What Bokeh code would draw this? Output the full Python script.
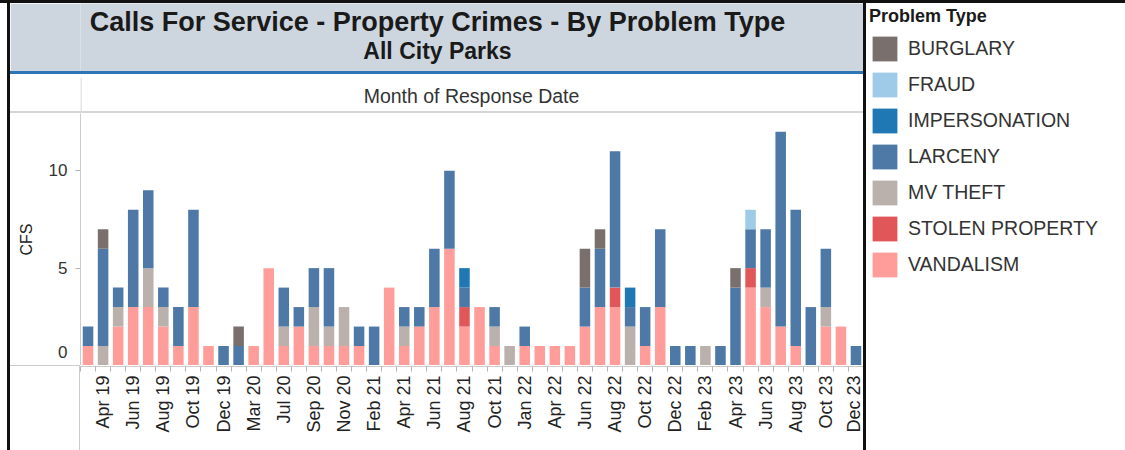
import math
from bokeh.plotting import figure
from bokeh.layouts import column, row
from bokeh.models import (ColumnDataSource, Range1d, FixedTicker, Label, Legend,
                          LegendItem, Div)
from bokeh.embed import file_html
from bokeh.resources import INLINE

months = ["Mar 19", "Apr 19", "May 19", "Jun 19", "Jul 19", "Aug 19", "Sep 19", "Oct 19", "Nov 19", "Dec 19",
          "Jan 20", "Mar 20", "May 20", "Jul 20", "Aug 20", "Sep 20", "Oct 20", "Nov 20", "Dec 20", "Feb 21",
          "Mar 21", "Apr 21", "May 21", "Jun 21", "Jul 21", "Aug 21", "Sep 21", "Oct 21", "Nov 21", "Jan 22",
          "Mar 22", "Apr 22", "May 22", "Jun 22", "Jul 22", "Aug 22", "Sep 22", "Oct 22", "Nov 22", "Dec 22",
          "Jan 23", "Feb 23", "Mar 23", "Apr 23", "May 23", "Jun 23", "Jul 23", "Aug 23", "Sep 23", "Oct 23",
          "Nov 23", "Dec 23"]

vandalism = [1, 0, 2, 3, 3, 2, 1, 3, 1, 0,
             0, 1, 5, 1, 2, 1, 1, 1, 1, 0,
             4, 1, 2, 3, 6, 2, 3, 1, 0, 1,
             1, 1, 1, 2, 3, 3, 0, 1, 3, 0,
             0, 0, 0, 0, 4, 3, 2, 1, 0, 2,
             2, 0]
stolen_property = [0, 0, 0, 0, 0, 0, 0, 0, 0, 0,
                   0, 0, 0, 0, 0, 0, 0, 0, 0, 0,
                   0, 0, 0, 0, 0, 1, 0, 0, 0, 0,
                   0, 0, 0, 0, 0, 1, 0, 0, 0, 0,
                   0, 0, 0, 0, 1, 0, 0, 0, 0, 0,
                   0, 0]
mv_theft = [0, 1, 1, 0, 2, 1, 0, 0, 0, 0,
            0, 0, 0, 1, 0, 2, 1, 2, 0, 0,
            0, 1, 0, 0, 0, 0, 0, 1, 1, 0,
            0, 0, 0, 0, 0, 0, 2, 0, 0, 0,
            0, 1, 0, 0, 0, 1, 0, 0, 0, 1,
            0, 0]
larceny = [1, 5, 1, 5, 4, 1, 2, 5, 0, 1,
           1, 0, 0, 2, 1, 2, 3, 0, 1, 2,
           0, 1, 1, 3, 4, 1, 0, 1, 0, 1,
           0, 0, 0, 2, 3, 7, 1, 2, 4, 1,
           1, 0, 1, 4, 2, 3, 10, 7, 3, 3,
           0, 1]
impersonation = [0, 0, 0, 0, 0, 0, 0, 0, 0, 0,
                 0, 0, 0, 0, 0, 0, 0, 0, 0, 0,
                 0, 0, 0, 0, 0, 1, 0, 0, 0, 0,
                 0, 0, 0, 0, 0, 0, 1, 0, 0, 0,
                 0, 0, 0, 0, 0, 0, 0, 0, 0, 0,
                 0, 0]
fraud = [0, 0, 0, 0, 0, 0, 0, 0, 0, 0,
         0, 0, 0, 0, 0, 0, 0, 0, 0, 0,
         0, 0, 0, 0, 0, 0, 0, 0, 0, 0,
         0, 0, 0, 0, 0, 0, 0, 0, 0, 0,
         0, 0, 0, 0, 1, 0, 0, 0, 0, 0,
         0, 0]
burglary = [0, 1, 0, 0, 0, 0, 0, 0, 0, 0,
            1, 0, 0, 0, 0, 0, 0, 0, 0, 0,
            0, 0, 0, 0, 0, 0, 0, 0, 0, 0,
            0, 0, 0, 2, 1, 0, 0, 0, 0, 0,
            0, 0, 0, 1, 0, 0, 0, 0, 0, 0,
            0, 0]

problem_types = ["BURGLARY", "FRAUD", "IMPERSONATION", "LARCENY", "MV THEFT", "STOLEN PROPERTY", "VANDALISM"]
type_colors = ["#79706e", "#a0cbe8", "#1f77b4", "#4e79a7", "#bab0ac", "#e15759", "#ff9d9a"]
y_ticks = [0, 5, 10]

FONT = "Liberation Sans"
BLACK = "#111111"
GRID = "#cccccc"
TITLE_BG = "#cdd6df"
LEFT = 70  # left border shared by stacked figures (page x 10..80)


def band_fig(h, yr, bg):
    f = figure(width=853, height=h, x_range=Range1d(80, 863), y_range=Range1d(*yr),
               min_border_left=LEFT, min_border_right=0, min_border_top=0, min_border_bottom=0,
               x_axis_location=None, y_axis_location=None,
               output_backend="svg", toolbar_location=None)
    f.grid.visible = False
    f.outline_line_color = None
    f.background_fill_color = bg
    f.border_fill_color = bg
    return f


def line_div(w, h, color=BLACK):
    return Div(width=w, height=h, margin=0, styles={"background-color": color})


# ---------------- title band (page y 3..71)
tb = band_fig(68, (71, 3), TITLE_BG)
tb.add_layout(Label(x=437, y=21, text="Calls For Service - Property Crimes - By Problem Type",
                    text_align="center", text_baseline="middle", text_font=FONT,
                    text_font_size="27px", text_font_style="bold", text_color="#1a1a1a"))
tb.add_layout(Label(x=437, y=50, text="All City Parks",
                    text_align="center", text_baseline="middle", text_font=FONT,
                    text_font_size="23px", text_font_style="bold", text_color="#1a1a1a"))

# ---------------- header row (page y 74..111)
hd = band_fig(37, (111, 74), "white")
hd.quad(left=80, right=81, top=77, bottom=111, color=GRID, line_color=None)
hd.add_layout(Label(x=471, y=95, text="Month of Response Date",
                    text_align="center", text_baseline="middle", text_font=FONT,
                    text_font_size="19.5px", text_color="#333333"))

# ---------------- main chart (page y 113..365)
data = {"x": list(range(len(months))), "month": months,
        "BURGLARY": burglary, "FRAUD": fraud, "IMPERSONATION": impersonation,
        "LARCENY": larceny, "MV THEFT": mv_theft, "STOLEN PROPERTY": stolen_property,
        "VANDALISM": vandalism}
source = ColumnDataSource(data)

xr = Range1d(-0.5, len(months) - 0.5)
p = figure(width=853, height=252, output_backend="svg", toolbar_location=None,
           x_range=xr, y_range=Range1d(0, 12.94), x_axis_location=None,
           min_border_left=LEFT, min_border_right=0, min_border_top=0, min_border_bottom=0)
p.xgrid.visible = False
p.ygrid.visible = False
p.outline_line_color = None
p.border_fill_color = "white"
p.background_fill_color = "white"

stack_order = ["VANDALISM", "STOLEN PROPERTY", "MV THEFT", "LARCENY", "IMPERSONATION", "FRAUD", "BURGLARY"]
cmap = dict(zip(problem_types, type_colors))
p.vbar_stack(stack_order, x="x", width=0.7, color=[cmap[s] for s in stack_order],
             line_color=None, source=source)

p.yaxis.ticker = FixedTicker(ticks=y_ticks)
# the bottom label sits just above the baseline (as in the source dashboard)
p.yaxis.major_label_overrides = {0: "0\n"}
p.yaxis.major_label_text_line_height = 0.2
p.yaxis.major_tick_out = 5
p.yaxis.major_tick_in = 0
p.yaxis.major_tick_line_color = "#b4b4b4"
p.yaxis.minor_tick_line_color = None
p.yaxis.axis_line_color = GRID
p.yaxis.major_label_standoff = 8
p.yaxis.major_label_text_font = FONT
p.yaxis.major_label_text_font_size = "17px"
p.yaxis.major_label_text_color = "#333333"
p.yaxis.axis_label = "CFS"
p.yaxis.axis_label_text_font = FONT
p.yaxis.axis_label_text_font_style = "normal"
p.yaxis.axis_label_text_font_size = "16px"
p.yaxis.axis_label_text_color = "#222222"
p.yaxis.axis_label_standoff = 11

# ---------------- month axis strip (page y 365..450), shares the x range
xa = figure(width=783, height=85, output_backend="svg", toolbar_location=None,
            x_range=xr, y_range=Range1d(0, 1), y_axis_location=None,
            min_border_left=0, min_border_right=0, min_border_top=0, min_border_bottom=84)
xa.grid.visible = False
xa.outline_line_color = None
xa.border_fill_color = "white"
xa.background_fill_color = "white"
label_idx = list(range(1, len(months), 2))
xa.xaxis.ticker = FixedTicker(ticks=label_idx, minor_ticks=[i + 0.5 for i in range(-1, len(months))])
xa.xaxis.major_label_overrides = {i: months[i] for i in label_idx}
xa.xaxis.major_label_orientation = math.pi / 2
xa.xaxis.major_tick_line_color = None
xa.xaxis.major_tick_out = 5
xa.xaxis.major_tick_in = 0
xa.xaxis.minor_tick_out = 5
xa.xaxis.minor_tick_in = 0
xa.xaxis.minor_tick_line_color = "#b4b4b4"
xa.xaxis.axis_line_color = GRID
xa.xaxis.major_label_standoff = 4
xa.xaxis.major_label_text_font = FONT
xa.xaxis.major_label_text_font_size = "18px"
xa.xaxis.major_label_text_color = "#222222"

corner = Div(width=LEFT, height=85, margin=0,
             styles={"border-top": "1px solid " + GRID, "border-right": "1px solid " + GRID,
                     "box-sizing": "border-box", "background-color": "white"})

# ---------------- legend panel (page x 866..1125, y 3..450)
lg = figure(width=259, height=447, x_range=Range1d(0, 259), y_range=Range1d(447, 0),
            min_border=0, x_axis_location=None, y_axis_location=None,
            output_backend="svg", toolbar_location=None)
lg.grid.visible = False
lg.outline_line_color = None
lg.border_fill_color = "white"
items = []
for t, c in zip(problem_types, type_colors):
    # zero-size stand-in glyph that only carries the legend swatch colour
    r = lg.vbar(x=[0], top=[0], bottom=[0], width=0, fill_color=c, line_color=None)
    items.append(LegendItem(label=t, renderers=[r]))
legend = Legend(items=items, location="top_left", title="Problem Type",
                title_text_font=FONT, title_text_font_size="18px", title_text_font_style="bold",
                title_text_color="#1a1a1a", title_standoff=6,
                label_text_font=FONT, label_text_font_size="19.5px", label_text_color="#333333",
                glyph_width=31, glyph_height=31, label_standoff=8, spacing=5,
                padding=8, margin=3, border_line_color=None, background_fill_alpha=0)
lg.add_layout(legend)

left_col = column(tb, line_div(853, 3, "#2f75b5"), hd, line_div(853, 2, "#d6d6d6"), p,
                  row(corner, xa, spacing=0), spacing=0)
body = row(Div(width=7, height=447, margin=0), line_div(3, 447), left_col, line_div(3, 447), lg, spacing=0)
root = column(line_div(1125, 3), body, spacing=0)

open("out.html", "w").write(file_html(root, INLINE))
